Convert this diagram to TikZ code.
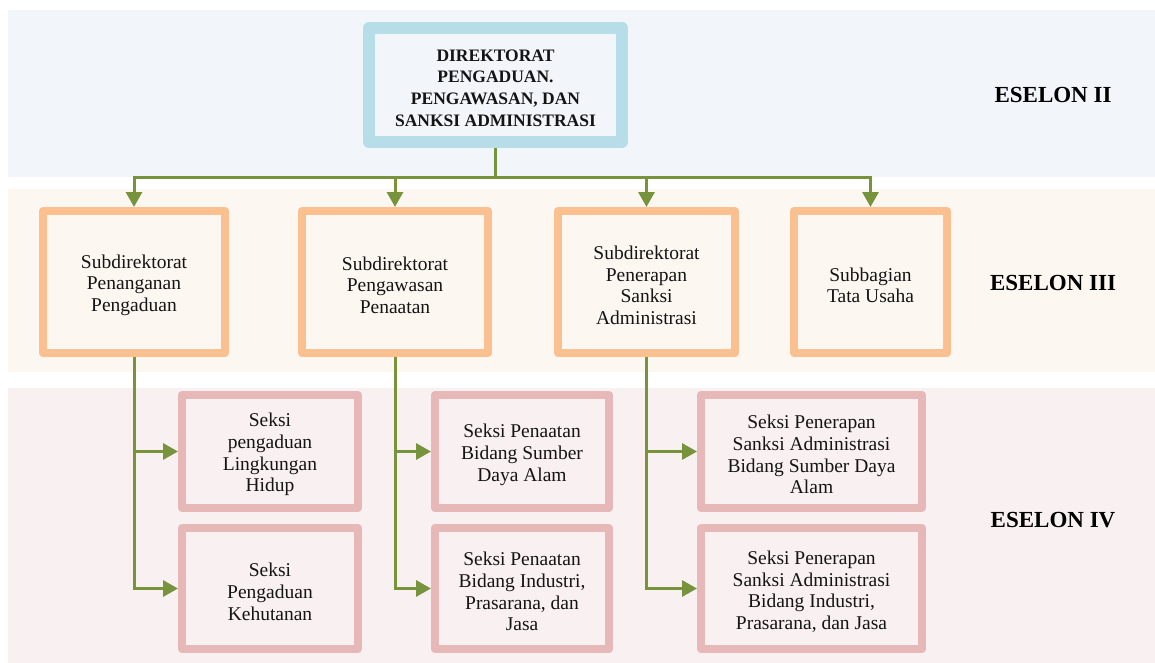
\documentclass[tikz,border=0pt]{standalone}
\usepackage{fontspec}
\setmainfont{Liberation Serif}
\usetikzlibrary{arrows.meta}

\definecolor{bandtwo}{HTML}{F2F5FA}
\definecolor{bandthree}{HTML}{FDF7F1}
\definecolor{bandfour}{HTML}{F9F0F1}
\definecolor{edgetwo}{HTML}{B6DDE8}
\definecolor{edgethree}{HTML}{FAC090}
\definecolor{edgefour}{HTML}{E6B9B8}
\definecolor{olive}{HTML}{77933C}
\definecolor{ink}{HTML}{141414}

% invisible strut on a first line: sets the lines of a box a little lower
\newcommand\lowerlines{\rule{0pt}{1.02em}}

\tikzset{
  unit/.style={draw, rectangle, line join=round, align=center, text=ink,
    inner sep=0pt},
  headbox/.style={unit, draw=edgetwo, fill=bandtwo, line width=12pt,
    font=\bfseries\fontsize{17.5}{21.7}\selectfont},
  subbox/.style={unit, draw=edgethree, fill=bandthree, line width=8pt,
    font=\fontsize{19.5}{21.7}\selectfont},
  sekbox/.style={unit, draw=edgefour, fill=bandfour, line width=8pt,
    font=\fontsize{19.5}{21.7}\selectfont},
  level/.style={font=\bfseries\fontsize{23}{26}\selectfont, text=black},
  link/.style={draw=olive, line width=3pt},
  linkarrow/.style={link, -{Triangle[length=15pt,width=16pt]}},
}

\begin{document}
\begin{tikzpicture}[x=1pt, y=-1pt]
  \useasboundingbox (0,0) rectangle (1155,663);

  % background bands for the three echelons
  \fill[bandtwo]   (8,10)  rectangle (1155,177);
  \fill[bandthree] (8,189) rectangle (1155,372);
  \fill[bandfour]  (8,388) rectangle (1155,663);

  % echelon II
  \node[headbox, minimum width=253pt, minimum height=114pt] (dir) at (495.5,85)
    {\lowerlines DIREKTORAT\\PENGADUAN.\\PENGAWASAN, DAN\\SANKSI ADMINISTRASI};

  % echelon III
  \node[subbox, minimum width=182pt, minimum height=142pt] (s1) at (134,282)
    {\lowerlines Subdirektorat\\Penanganan\\Pengaduan};
  \node[subbox, minimum width=186pt, minimum height=142pt] (s2) at (395,282)
    {\lowerlines Subdirektorat\\Pengawasan\\Penaatan};
  \node[subbox, minimum width=177pt, minimum height=142pt] (s3) at (646.5,282)
    {\lowerlines Subdirektorat\\Penerapan\\Sanksi\\Administrasi};
  \node[subbox, minimum width=153pt, minimum height=142pt] (s4) at (870.5,282)
    {\lowerlines Subbagian\\Tata Usaha};

  % echelon IV
  \node[sekbox, minimum width=176pt, minimum height=113pt] (e11) at (270,451.5)
    {\lowerlines Seksi\\pengaduan\\Lingkungan\\Hidup};
  \node[sekbox, minimum width=176pt, minimum height=121pt] (e12) at (270,588.5)
    {\lowerlines Seksi\\Pengaduan\\Kehutanan};
  \node[sekbox, minimum width=174pt, minimum height=113pt] (e21) at (522,451.5)
    {\lowerlines Seksi Penaatan\\Bidang Sumber\\Daya Alam};
  \node[sekbox, minimum width=174pt, minimum height=121pt] (e22) at (522,588.5)
    {\lowerlines Seksi Penaatan\\Bidang Industri,\\Prasarana, dan\\Jasa};
  \node[sekbox, minimum width=221pt, minimum height=113pt] (e31) at (811.5,451.5)
    {\lowerlines Seksi Penerapan\\Sanksi Administrasi\\Bidang Sumber Daya\\Alam};
  \node[sekbox, minimum width=221pt, minimum height=121pt] (e32) at (811.5,588.5)
    {\lowerlines Seksi Penerapan\\Sanksi Administrasi\\Bidang Industri,\\Prasarana, dan Jasa};

  % echelon labels
  \node[level] (l2) at (1053,95)  {ESELON II};
  \node[level] (l3) at (1053,283) {ESELON III};
  \node[level] (l4) at (1053,520) {ESELON IV};

  % distribution bus under the directorate
  \coordinate (bus) at (0,177);
  \draw[link] (dir.south) -- (dir.south |- bus);
  \draw[link, line cap=rect] (s1.north |- bus) -- (s4.north |- bus);
  \foreach \s in {s1,s2,s3,s4}
    \draw[linkarrow] (\s.north |- bus) -- (\s.north);

  % sections under each subdirectorate
  \foreach \s/\a/\b in {s1/e11/e12, s2/e21/e22, s3/e31/e32} {
    \draw[linkarrow] (\s.south) |- (\b.west);
    \draw[linkarrow] (\s.south |- \a.west) -- (\a.west);
  }
\end{tikzpicture}
\end{document}
